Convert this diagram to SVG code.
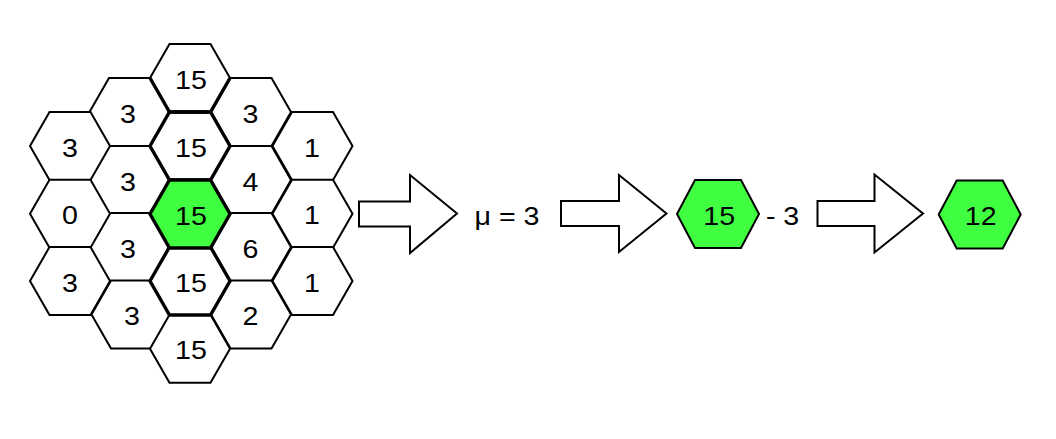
<svg xmlns="http://www.w3.org/2000/svg" xmlns:xlink="http://www.w3.org/1999/xlink" width="1056" height="439" viewBox="0 0 1056 439">
<style>
.hx{fill:#ffffff;stroke:#000000;stroke-width:2;stroke-linejoin:miter}
.tk{stroke-width:3.4}
.g{fill:#40ff40}
.ln{fill:none;stroke:#000000;stroke-width:3.4;stroke-linejoin:miter}
.t{font-family:"Liberation Sans",Arial,sans-serif;font-size:26px;fill:#000000;text-anchor:middle}
.ar{fill:#ffffff;stroke:#000000;stroke-width:2;stroke-linejoin:miter}
</style>
<defs>
<polygon id="hex" points="-40,0 -20.5,-34 20.5,-34 40,0 20.5,34 -20.5,34"/>
<polygon id="hexs" points="-41,0 -23,-34 23,-34 41,0 23,34 -23,34"/>
</defs>
<rect width="1056" height="439" fill="#ffffff"/>
<g id="grid">
<g id="c0r0"><use xlink:href="#hex" class="hx" x="190" y="78"/><text class="t" transform="translate(191,88.5) scale(1.1,1)">15</text></g>
<g id="l1r0"><use xlink:href="#hex" class="hx" x="129.5" y="112"/><text class="t" transform="translate(128,122.5) scale(1.1,1)">3</text></g>
<g id="l1r1"><use xlink:href="#hex" class="hx" x="129.5" y="180"/><text class="t" transform="translate(128,190.5) scale(1.1,1)">3</text></g>
<g id="l1r2"><use xlink:href="#hex" class="hx" x="129.5" y="247"/><text class="t" transform="translate(128,257.5) scale(1.1,1)">3</text></g>
<g id="l1r3"><use xlink:href="#hex" class="hx" x="131.5" y="314.5"/><text class="t" transform="translate(132,325) scale(1.1,1)">3</text></g>
<g id="r1r0"><use xlink:href="#hex" class="hx" x="251" y="112"/><text class="t" transform="translate(250.5,122.5) scale(1.1,1)">3</text></g>
<g id="r1r1"><use xlink:href="#hex" class="hx" x="251" y="180"/><text class="t" transform="translate(250.5,190.5) scale(1.1,1)">4</text></g>
<g id="r1r2"><use xlink:href="#hex" class="hx" x="251" y="247"/><text class="t" transform="translate(250.5,257.5) scale(1.1,1)">6</text></g>
<g id="r1r3"><use xlink:href="#hex" class="hx" x="251" y="314.5"/><text class="t" transform="translate(250.5,325) scale(1.1,1)">2</text></g>
<g id="l2r0"><use xlink:href="#hex" class="hx" x="70" y="146"/><text class="t" transform="translate(70,156.5) scale(1.1,1)">3</text></g>
<g id="l2r1"><use xlink:href="#hex" class="hx" x="70" y="213.7"/><text class="t" transform="translate(70,224.2) scale(1.1,1)">0</text></g>
<g id="l2r2"><use xlink:href="#hex" class="hx" x="70" y="281"/><text class="t" transform="translate(70,291.5) scale(1.1,1)">3</text></g>
<g id="r2r0"><use xlink:href="#hex" class="hx" x="312.5" y="146"/><text class="t" transform="translate(312,156.5) scale(1.1,1)">1</text></g>
<g id="r2r1"><use xlink:href="#hex" class="hx" x="312.5" y="213.7"/><text class="t" transform="translate(312,224.2) scale(1.1,1)">1</text></g>
<g id="r2r2"><use xlink:href="#hex" class="hx" x="312.5" y="281"/><text class="t" transform="translate(312,291.5) scale(1.1,1)">1</text></g>
<g id="c0r4"><use xlink:href="#hex" class="hx" x="190" y="348.7"/><text class="t" transform="translate(191,359.2) scale(1.1,1)">15</text></g>
<g id="c0r1"><use xlink:href="#hex" class="hx tk" x="190" y="146"/><text class="t" transform="translate(191,156.5) scale(1.1,1)">15</text></g>
<g id="c0r3"><use xlink:href="#hex" class="hx tk" x="190" y="281"/><text class="t" transform="translate(191,291.5) scale(1.1,1)">15</text></g>
<g id="center"><use xlink:href="#hex" class="hx tk g" x="190" y="214"/><text class="t" transform="translate(191,224.5) scale(1.1,1)">15</text></g>
<path id="c0r0-edges" class="ln" d="M150,78 L169.5,112 L210.5,112 L230,78"/>
</g>
<g id="connectors">
<polygon class="ar" points="359,201.5 410,201.5 410,175 457,213.5 410,253 410,226.5 359,226.5"/>
<polygon class="ar" points="561,201 619,201 619,175 666.5,213.5 619,252 619,226 561,226"/>
<polygon class="ar" points="817.5,201 874.5,201 874.5,174.5 923,213.5 874.5,252.5 874.5,226 817.5,226"/>
</g>
<g id="mu"><text class="t" transform="translate(507,224.5) scale(1.1,1)">μ = 3</text></g>
<g id="hex15"><use xlink:href="#hexs" class="hx g" x="718" y="214"/><text class="t" transform="translate(719.2,224.5) scale(1.1,1)">15</text></g>
<g id="minus3"><text class="t" transform="translate(782.6,224.5) scale(1.1,1)">- 3</text></g>
<g id="hex12"><use xlink:href="#hexs" class="hx g" x="979.7" y="214.5"/><text class="t" transform="translate(980.7,224.5) scale(1.1,1)">12</text></g>
</svg>
